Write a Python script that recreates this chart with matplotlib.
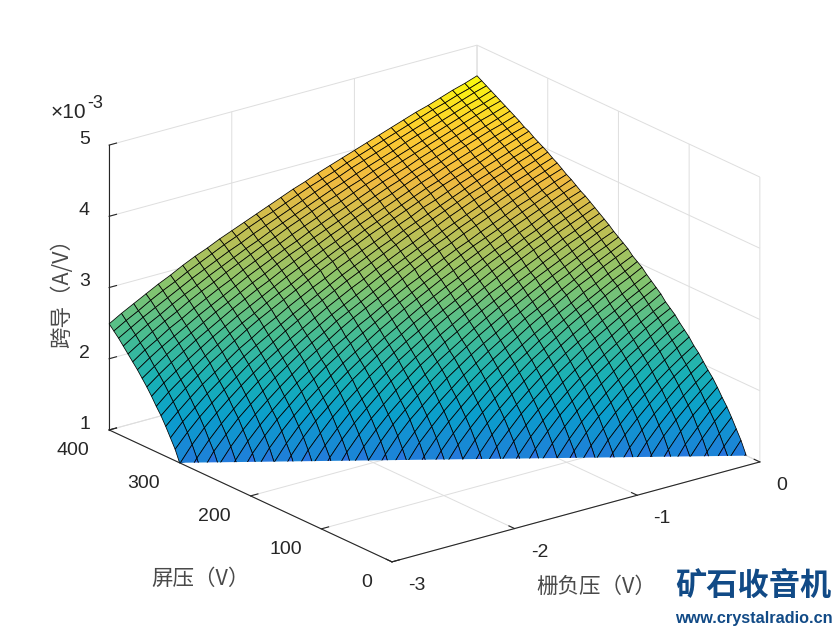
import matplotlib
from matplotlib import pyplot as plt
from matplotlib.colors import LinearSegmentedColormap
from matplotlib.path import Path
from mpl_toolkits.mplot3d import proj3d
import numpy as np

matplotlib.use('Agg')

# Grid of the surface, 60 steps over the plate voltage
grid_volts = np.arange(-3, 0.01, 0.1)
plate_volts = np.linspace(0, 400, 61)

# Transconductance in mA/V, read per plate voltage row. Rows only hold the
# right hand part, the points further left are far under the floor (0).
gm_rows = [
    [],
    [.60],
    [.44, .83],
    [.26, .74, 1.02],
    [.65, .96, 1.18],
    [.51, .87, 1.11, 1.31],
    [.36, .79, 1.05, 1.26, 1.44],
    [.70, .99, 1.21, 1.40, 1.56],
    [.57, .90, 1.14, 1.33, 1.51, 1.66],
    [.44, .83, 1.08, 1.29, 1.47, 1.62, 1.77],
    [.26, .74, 1.02, 1.24, 1.42, 1.58, 1.73, 1.87],
    [.63, .94, 1.17, 1.36, 1.53, 1.68, 1.82, 1.95],
    [.51, .87, 1.11, 1.31, 1.49, 1.64, 1.79, 1.92, 2.04],
    [.36, .79, 1.05, 1.26, 1.44, 1.60, 1.75, 1.89, 2.01, 2.13],
    [.68, .97, 1.20, 1.38, 1.55, 1.70, 1.84, 1.97, 2.09, 2.20],
    [.57, .90, 1.14, 1.33, 1.51, 1.66, 1.80, 1.94, 2.06, 2.18, 2.29],
    [.44, .83, 1.08, 1.29, 1.47, 1.62, 1.77, 1.90, 2.03, 2.15, 2.26, 2.36],
    [.18, .72, 1.00, 1.22, 1.41, 1.57, 1.72, 1.86, 1.99, 2.11, 2.22, 2.33, 2.43],
    [.63, .94, 1.17, 1.36, 1.53, 1.68, 1.82, 1.95, 2.08, 2.19, 2.30, 2.41, 2.51],
    [.51, .87, 1.11, 1.31, 1.49, 1.64, 1.79, 1.92, 2.04, 2.16, 2.27, 2.38, 2.48, 2.57],
    [.31, .77, 1.04, 1.25, 1.43, 1.59, 1.74, 1.88, 2.00, 2.12, 2.23, 2.34, 2.44, 2.54, 2.63],
    [.68, .97, 1.20, 1.38, 1.55, 1.70, 1.84, 1.97, 2.09, 2.20, 2.31, 2.42, 2.52, 2.61, 2.71],
    [.57, .90, 1.14, 1.33, 1.51, 1.66, 1.80, 1.94, 2.06, 2.18, 2.29, 2.39, 2.49, 2.59, 2.68, 2.77],
    [.40, .81, 1.07, 1.28, 1.46, 1.61, 1.76, 1.90, 2.02, 2.14, 2.25, 2.35, 2.46, 2.55, 2.65, 2.74, 2.83],
    [.18, .72, 1.00, 1.22, 1.41, 1.57, 1.72, 1.86, 1.99, 2.11, 2.22, 2.33, 2.43, 2.53, 2.62, 2.71, 2.80, 2.89],
    [.63, .94, 1.17, 1.36, 1.53, 1.68, 1.82, 1.95, 2.08, 2.19, 2.30, 2.41, 2.51, 2.60, 2.70, 2.79, 2.87, 2.96],
    [.48, .85, 1.10, 1.30, 1.48, 1.63, 1.78, 1.91, 2.04, 2.15, 2.27, 2.37, 2.47, 2.57, 2.66, 2.75, 2.84, 2.92, 3.01],
    [.31, .77, 1.04, 1.25, 1.43, 1.59, 1.74, 1.88, 2.00, 2.12, 2.23, 2.34, 2.44, 2.54, 2.63, 2.73, 2.81, 2.90, 2.98, 3.06],
    [.68, .97, 1.20, 1.38, 1.55, 1.70, 1.84, 1.97, 2.09, 2.20, 2.31, 2.42, 2.52, 2.61, 2.71, 2.80, 2.88, 2.97, 3.05, 3.13],
    [.54, .88, 1.13, 1.32, 1.50, 1.65, 1.79, 1.93, 2.05, 2.17, 2.28, 2.38, 2.49, 2.58, 2.67, 2.76, 2.85, 2.94, 3.02, 3.10, 3.18],
    [.40, .81, 1.07, 1.28, 1.46, 1.61, 1.76, 1.90, 2.02, 2.14, 2.25, 2.35, 2.46, 2.55, 2.65, 2.74, 2.83, 2.91, 3.00, 3.08, 3.15, 3.23],
    [.18, .72, 1.00, 1.22, 1.41, 1.57, 1.72, 1.86, 1.99, 2.11, 2.22, 2.33, 2.43, 2.53, 2.62, 2.71, 2.80, 2.89, 2.97, 3.05, 3.13, 3.21, 3.28],
    [.60, .92, 1.16, 1.35, 1.52, 1.67, 1.81, 1.94, 2.07, 2.18, 2.29, 2.40, 2.50, 2.60, 2.69, 2.78, 2.87, 2.95, 3.03, 3.11, 3.19, 3.27, 3.34],
    [.48, .85, 1.10, 1.30, 1.48, 1.63, 1.78, 1.91, 2.04, 2.15, 2.27, 2.37, 2.47, 2.57, 2.66, 2.75, 2.84, 2.92, 3.01, 3.09, 3.17, 3.24, 3.31, 3.39],
    [.31, .77, 1.04, 1.25, 1.43, 1.59, 1.74, 1.88, 2.00, 2.12, 2.23, 2.34, 2.44, 2.54, 2.63, 2.73, 2.81, 2.90, 2.98, 3.06, 3.14, 3.22, 3.29, 3.37, 3.44],
    [.65, .96, 1.18, 1.37, 1.54, 1.69, 1.83, 1.96, 2.09, 2.20, 2.31, 2.42, 2.52, 2.61, 2.70, 2.79, 2.88, 2.97, 3.05, 3.13, 3.20, 3.28, 3.35, 3.42, 3.49],
    [.54, .88, 1.13, 1.32, 1.50, 1.65, 1.79, 1.93, 2.05, 2.17, 2.28, 2.38, 2.49, 2.58, 2.67, 2.76, 2.85, 2.94, 3.02, 3.10, 3.18, 3.25, 3.33, 3.40, 3.47, 3.54],
    [.40, .81, 1.07, 1.28, 1.46, 1.61, 1.76, 1.90, 2.02, 2.14, 2.25, 2.35, 2.46, 2.55, 2.65, 2.74, 2.83, 2.91, 3.00, 3.08, 3.15, 3.23, 3.30, 3.38, 3.45, 3.52, 3.59],
    [.70, .99, 1.21, 1.40, 1.56, 1.71, 1.85, 1.98, 2.10, 2.21, 2.32, 2.42, 2.52, 2.62, 2.71, 2.80, 2.88, 2.97, 3.05, 3.13, 3.20, 3.28, 3.35, 3.43, 3.50, 3.57, 3.63],
    [.60, .92, 1.16, 1.35, 1.52, 1.67, 1.81, 1.94, 2.07, 2.18, 2.29, 2.40, 2.50, 2.60, 2.69, 2.78, 2.87, 2.95, 3.03, 3.11, 3.19, 3.27, 3.34, 3.41, 3.48, 3.55, 3.62, 3.68],
    [.48, .85, 1.10, 1.30, 1.48, 1.63, 1.78, 1.91, 2.04, 2.15, 2.27, 2.37, 2.47, 2.57, 2.66, 2.75, 2.84, 2.92, 3.01, 3.09, 3.17, 3.24, 3.31, 3.39, 3.46, 3.53, 3.60, 3.66, 3.73],
    [.26, .74, 1.02, 1.24, 1.42, 1.58, 1.73, 1.87, 1.99, 2.11, 2.23, 2.33, 2.44, 2.53, 2.63, 2.72, 2.81, 2.89, 2.98, 3.06, 3.14, 3.21, 3.29, 3.36, 3.43, 3.51, 3.57, 3.64, 3.71, 3.77],
    [.65, .96, 1.18, 1.37, 1.54, 1.69, 1.83, 1.96, 2.09, 2.20, 2.31, 2.42, 2.52, 2.61, 2.70, 2.79, 2.88, 2.97, 3.05, 3.13, 3.20, 3.28, 3.35, 3.42, 3.49, 3.56, 3.63, 3.70, 3.76, 3.82],
    [.54, .88, 1.13, 1.32, 1.50, 1.65, 1.79, 1.93, 2.05, 2.17, 2.28, 2.38, 2.49, 2.58, 2.67, 2.76, 2.85, 2.94, 3.02, 3.10, 3.18, 3.25, 3.33, 3.40, 3.47, 3.54, 3.61, 3.67, 3.74, 3.80, 3.87],
    [.79, 1.05, 1.26, 1.44, 1.60, 1.75, 1.89, 2.01, 2.13, 2.24, 2.35, 2.45, 2.55, 2.64, 2.73, 2.82, 2.91, 2.99, 3.07, 3.15, 3.22, 3.30, 3.37, 3.44, 3.51, 3.58, 3.65, 3.72, 3.78, 3.85, 3.91],
    [.99, 1.21, 1.40, 1.56, 1.71, 1.85, 1.98, 2.10, 2.21, 2.32, 2.42, 2.52, 2.62, 2.71, 2.80, 2.88, 2.97, 3.05, 3.13, 3.20, 3.28, 3.35, 3.43, 3.50, 3.57, 3.63, 3.70, 3.77, 3.83, 3.89, 3.96],
    [1.16, 1.35, 1.52, 1.67, 1.81, 1.94, 2.07, 2.18, 2.29, 2.40, 2.50, 2.60, 2.69, 2.78, 2.87, 2.95, 3.03, 3.11, 3.19, 3.27, 3.34, 3.41, 3.48, 3.55, 3.62, 3.68, 3.75, 3.81, 3.88, 3.94, 4.00],
    [1.29, 1.47, 1.62, 1.77, 1.90, 2.03, 2.15, 2.26, 2.36, 2.46, 2.56, 2.65, 2.74, 2.83, 2.92, 3.00, 3.08, 3.16, 3.23, 3.31, 3.38, 3.45, 3.52, 3.59, 3.66, 3.73, 3.79, 3.85, 3.92, 3.98, 4.04],
    [1.42, 1.58, 1.73, 1.87, 1.99, 2.11, 2.23, 2.33, 2.44, 2.53, 2.63, 2.72, 2.81, 2.89, 2.98, 3.06, 3.14, 3.21, 3.29, 3.36, 3.43, 3.51, 3.57, 3.64, 3.71, 3.77, 3.84, 3.90, 3.96, 4.02, 4.08],
    [1.54, 1.69, 1.83, 1.96, 2.09, 2.20, 2.31, 2.42, 2.52, 2.61, 2.70, 2.79, 2.88, 2.97, 3.05, 3.13, 3.20, 3.28, 3.35, 3.42, 3.49, 3.56, 3.63, 3.70, 3.76, 3.82, 3.88, 3.95, 4.01, 4.07, 4.13],
    [1.64, 1.79, 1.92, 2.04, 2.16, 2.27, 2.38, 2.48, 2.57, 2.67, 2.76, 2.84, 2.93, 3.01, 3.09, 3.17, 3.24, 3.32, 3.39, 3.46, 3.53, 3.60, 3.67, 3.73, 3.80, 3.86, 3.92, 3.98, 4.05, 4.11, 4.16],
    [1.75, 1.89, 2.01, 2.13, 2.24, 2.35, 2.45, 2.55, 2.64, 2.73, 2.82, 2.91, 2.99, 3.07, 3.15, 3.22, 3.30, 3.37, 3.44, 3.51, 3.58, 3.65, 3.72, 3.78, 3.85, 3.91, 3.97, 4.03, 4.09, 4.15, 4.21],
    [1.85, 1.98, 2.10, 2.21, 2.32, 2.42, 2.52, 2.62, 2.71, 2.80, 2.88, 2.97, 3.05, 3.13, 3.20, 3.28, 3.35, 3.43, 3.50, 3.57, 3.63, 3.70, 3.77, 3.83, 3.89, 3.96, 4.02, 4.08, 4.14, 4.19, 4.25],
    [1.94, 2.06, 2.18, 2.29, 2.39, 2.49, 2.59, 2.68, 2.77, 2.86, 2.94, 3.03, 3.11, 3.18, 3.26, 3.33, 3.40, 3.47, 3.54, 3.61, 3.68, 3.74, 3.81, 3.87, 3.93, 3.99, 4.05, 4.11, 4.17, 4.23, 4.29],
    [2.03, 2.15, 2.26, 2.36, 2.46, 2.56, 2.65, 2.74, 2.83, 2.92, 3.00, 3.08, 3.16, 3.23, 3.31, 3.38, 3.45, 3.52, 3.59, 3.66, 3.73, 3.79, 3.85, 3.92, 3.98, 4.04, 4.10, 4.16, 4.22, 4.27, 4.33],
    [2.11, 2.23, 2.33, 2.44, 2.53, 2.63, 2.72, 2.81, 2.89, 2.98, 3.06, 3.14, 3.21, 3.29, 3.36, 3.43, 3.51, 3.57, 3.64, 3.71, 3.77, 3.84, 3.90, 3.96, 4.02, 4.08, 4.14, 4.20, 4.26, 4.32, 4.37],
    [2.19, 2.30, 2.41, 2.51, 2.60, 2.70, 2.79, 2.87, 2.96, 3.04, 3.12, 3.20, 3.27, 3.35, 3.42, 3.49, 3.56, 3.62, 3.69, 3.75, 3.82, 3.88, 3.94, 4.00, 4.06, 4.12, 4.18, 4.24, 4.30, 4.35, 4.41],
    [2.27, 2.38, 2.48, 2.57, 2.67, 2.76, 2.84, 2.93, 3.01, 3.09, 3.17, 3.24, 3.32, 3.39, 3.46, 3.53, 3.60, 3.67, 3.73, 3.80, 3.86, 3.92, 3.98, 4.05, 4.11, 4.16, 4.22, 4.28, 4.34, 4.39, 4.45],
    [2.35, 2.45, 2.55, 2.64, 2.73, 2.82, 2.91, 2.99, 3.07, 3.15, 3.22, 3.30, 3.37, 3.44, 3.51, 3.58, 3.65, 3.72, 3.78, 3.85, 3.91, 3.97, 4.03, 4.09, 4.15, 4.21, 4.27, 4.32, 4.38, 4.44, 4.49],
    [2.42, 2.52, 2.61, 2.71, 2.80, 2.88, 2.97, 3.05, 3.13, 3.21, 3.28, 3.36, 3.43, 3.49, 3.56, 3.63, 3.70, 3.76, 3.82, 3.89, 3.95, 4.01, 4.07, 4.13, 4.19, 4.25, 4.31, 4.36, 4.42, 4.47, 4.53],
    [2.49, 2.59, 2.68, 2.77, 2.86, 2.94, 3.03, 3.11, 3.18, 3.26, 3.33, 3.40, 3.47, 3.54, 3.61, 3.68, 3.74, 3.81, 3.87, 3.93, 3.99, 4.05, 4.11, 4.17, 4.23, 4.29, 4.34, 4.40, 4.46, 4.51, 4.57],
]

# Where the surface passes through the floor of the box (grid V, plate V)
floor_cut_grid = [-3, 0]
floor_cut_plate = [300.5, 19]

x_ticks = [-3, -2, -1, 0]
y_ticks = [0, 100, 200, 300, 400]
z_ticks = [1, 2, 3, 4, 5]

parula = LinearSegmentedColormap.from_list('parula', [
    (0.00, (.2422, .1504, .6603)),
    (0.11, (.2800, .3300, .9600)),
    (0.22, (.1200, .5000, .8500)),
    (0.33, (.0400, .6200, .8000)),
    (0.42, (.1000, .6900, .7100)),
    (0.52, (.2800, .7400, .5700)),
    (0.62, (.5200, .7700, .4300)),
    (0.72, (.7400, .7500, .3300)),
    (0.82, (.9400, .7300, .2500)),
    (0.91, (.9900, .8000, .1900)),
    (1.00, (.9760, .9830, .0540)),
])

rij_lengte = len(grid_volts)
Z = np.array([[0.0] * (rij_lengte - len(r)) + r for r in gm_rows])
X, Y = np.meshgrid(grid_volts, plate_volts)

fig = plt.figure(figsize=(8.4, 6.3), dpi=100)
ax = fig.add_axes([73.5 / 840, -34.5 / 630, 703 / 840, 703 / 630],
                  projection='3d')
ax.set_proj_type('ortho')
ax.view_init(elev=20.85, azim=-127.35)
ax.set_box_aspect((463, 466.4, 305))
ax.patch.set_alpha(0)

ax.set_xlim(-3, 0, view_margin=0)
ax.set_ylim(0, 400, view_margin=0)
ax.set_zlim(1, 5, view_margin=0)

surf = ax.plot_surface(X, Y, Z, rstride=1, cstride=1, cmap=parula, vmin=0,
                       vmax=4.57, edgecolor='k', linewidth=0.55)

# Cut the surface off at the floor, everything under this line is hidden
px, py, _ = proj3d.proj_transform(np.array(floor_cut_grid, dtype=float),
                                  np.array(floor_cut_plate),
                                  np.array([1.0, 1.0]), ax.get_proj())
helling = (py[1] - py[0]) / (px[1] - px[0])
links, rechts = -1.0, 1.0
clip_pad = Path([(links, py[0] + helling * (links - px[0])),
                 (rechts, py[0] + helling * (rechts - px[0])),
                 (rechts, 1.0), (links, 1.0), (links, 0.0)],
                closed=True)
surf.set_clip_path(clip_pad, ax.transData)

# Axes
grid_kleur = (0.87, 0.87, 0.87, 1)
for as_3d, ticks, pad, ha, va in [(ax.xaxis, x_ticks, 7, 'left', 'center'),
                                  (ax.yaxis, y_ticks, 6, 'right', 'center'),
                                  (ax.zaxis, z_ticks, 2, 'center', 'baseline')]:
    as_3d.set_ticks(ticks)
    as_3d.set_ticklabels([str(t) for t in ticks])
    as_3d.set_pane_color((1, 1, 1, 0))
    as_3d.pane.set_edgecolor((1, 1, 1, 0))
    as_3d.line.set_color('#262626')
    as_3d.line.set_linewidth(0.8)
    as_3d._axinfo['grid']['color'] = grid_kleur
    as_3d._axinfo['grid']['linewidth'] = 0.7
    as_3d._axinfo['tick']['inward_factor'] = 0
    as_3d._axinfo['tick']['outward_factor'] = 0.25
    as_3d._axinfo['tick']['linewidth'] = {True: 0.8, False: 0.8}
    as_3d._axinfo['tick']['color'] = '#262626'
    as_3d.set_tick_params(labelsize=14, labelcolor='#262626', pad=pad,
                          labelfontfamily='Liberation Sans', color='#262626')
    for label in as_3d.get_ticklabels():
        label.set_ha(ha)
        label.set_va(va)

cjk = ['Noto Sans CJK SC', 'DejaVu Sans']
label_kleur = '#4a4a4a'
fig.text(201 / 840, 1 - 579 / 630, '屏压（V）', family=cjk, fontsize=15.5,
         color=label_kleur, ha='center', va='center')
fig.text(596 / 840, 1 - 587 / 630, '栅负压（V）', family=cjk, fontsize=15.5,
         color=label_kleur, ha='center', va='center')
fig.text(62 / 840, 1 - 288 / 630, '跨导（A/V）', family=cjk, fontsize=15.5,
         color=label_kleur, ha='center', va='center', rotation=90)
fig.text(51 / 840, 1 - 113 / 630, '×10', fontsize=15,
         family='Liberation Sans', color='#262626', ha='left', va='center')
fig.text(87 / 840, 1 - 104 / 630, '-3', fontsize=13,
         family='Liberation Sans', color='#262626', ha='left', va='center')

# Watermark
fig.text(675 / 840, 1 - 587 / 630, '矿石收音机', family=cjk, fontsize=22.5,
         fontweight='bold', color='#114a86', ha='left', va='center')
fig.text(675 / 840, 1 - 618 / 630, 'www.crystalradio.cn', fontsize=11.7,
         family='Liberation Sans', fontweight='bold', color='#114a86',
         ha='left', va='center')

fig.savefig('out.png', dpi=100)
